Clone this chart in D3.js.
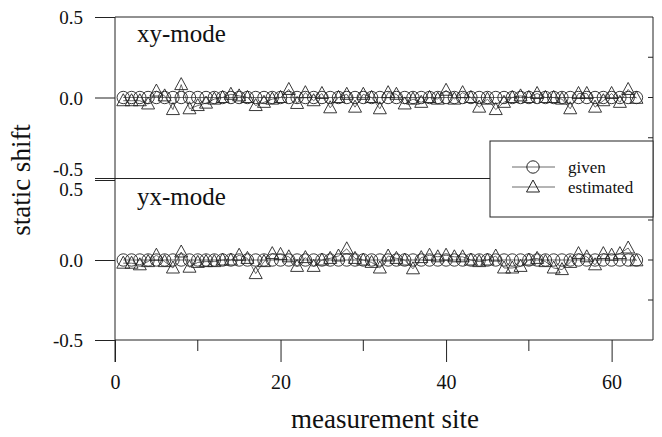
<!DOCTYPE html>
<html><head><meta charset="utf-8">
<script src="https://cdn.jsdelivr.net/npm/d3@7"></script>
<style>body{margin:0;background:#fff}svg{display:block}text{font-family:"Liberation Serif","Times New Roman",serif;fill:#111}</style>
</head><body>
<script>
const sites = d3.range(1, 64);
const xyGiven = sites.map(() => 0);
const xyEstimated = [-0.02,-0.02,-0.02,-0.04,0.04,0.01,-0.075,0.08,-0.07,-0.05,-0.035,-0.01,0.0,0.02,0.01,0.0,-0.05,-0.03,-0.01,0.0,
 0.05,-0.037,0.03,-0.02,0.025,-0.064,0.0,0.02,-0.06,0.02,0.0,-0.07,0.03,0.02,-0.04,-0.01,-0.03,0.0,-0.01,0.045,
 -0.01,0.03,0.0,-0.06,-0.01,-0.075,-0.03,0.0,0.01,0.0,0.025,0.0,0.0,-0.01,-0.07,0.025,0.025,-0.06,-0.02,0.025,
 -0.03,0.05,-0.005];
const yxGiven = sites.map(() => 0);
const yxEstimated = [-0.02,-0.02,-0.03,-0.01,0.03,-0.01,-0.05,0.05,-0.045,-0.015,-0.01,-0.01,0.0,0.0,0.03,0.01,-0.085,-0.01,0.04,0.035,
 0.02,-0.04,0.015,-0.04,0.0,0.01,0.025,0.07,0.01,0.0,-0.015,-0.05,0.025,0.01,0.0,-0.055,0.015,0.03,0.02,0.03,
 0.02,0.02,0.0,-0.01,0.0,0.025,-0.05,-0.05,-0.04,0.0,0.01,-0.01,-0.05,-0.06,-0.015,0.04,0.02,-0.03,0.04,0.03,
 0.04,0.075,-0.005];
const xTicks = [0, 20, 40, 60];
const xMinorTicks = [10, 30, 50];
const yTicks = [-0.5, 0.0, 0.5];
const panelTitles = ["xy-mode", "yx-mode"];
const legendLabels = ["given", "estimated"];

const W = 662, H = 437;
const svg = d3.select("body").append("svg").attr("width", W).attr("height", H);

const x = d3.scaleLinear().domain([0, 65]).range([115, 653]);
const panels = [
  {y: d3.scaleLinear().domain([-0.5, 0.5]).range([178, 17]), given: xyGiven, est: xyEstimated, title: panelTitles[0]},
  {y: d3.scaleLinear().domain([-0.5, 0.5]).range([340, 180]), given: yxGiven, est: yxEstimated, title: panelTitles[1]}
];
const L = 115, R = 653;
const stroke = "#222";
const fmt = d => d3.format(".1f")(d).replace("\u2212", "-");

function tri(cx, cy) {
  return `M${cx},${cy-7}L${cx+6.5},${cy+5}L${cx-6.5},${cy+5}Z`;
}

// frame
svg.append("line").attr("x1", L).attr("x2", L).attr("y1", 17).attr("y2", 362).attr("stroke", stroke).attr("stroke-width", 1);
svg.append("line").attr("x1", R).attr("x2", R).attr("y1", 17).attr("y2", 340).attr("stroke", stroke).attr("stroke-width", 1);
svg.append("line").attr("x1", L).attr("x2", R).attr("y1", 340).attr("y2", 340).attr("stroke", stroke).attr("stroke-width", 1);
svg.append("line").attr("x1", L).attr("x2", R).attr("y1", 17).attr("y2", 17).attr("stroke", stroke).attr("stroke-width", 1);
svg.append("line").attr("x1", L).attr("x2", R).attr("y1", 178.5).attr("y2", 178.5).attr("stroke", stroke).attr("stroke-width", 1);

panels.forEach((p, pi) => {
  const g = svg.append("g");
  const ax = d3.axisLeft(p.y).tickValues(yTicks).tickFormat(fmt).tickSize(20).tickPadding(12);
  const ga = g.append("g").attr("transform", `translate(${L},0)`).call(ax);
  ga.select(".domain").remove();
  ga.selectAll(".tick line").attr("stroke", stroke);
  ga.selectAll(".tick text").style("font-size", "19px").style("font-family", '"Liberation Serif",serif').attr("fill", "#111")
    .attr("dy", d => (pi === 0 && d === -0.5) ? "-0.15em" : (pi === 1 && d === 0.5) ? "0.8em" : "0.35em");
  g.selectAll(".rt").data([-0.25, 0, 0.25]).join("line")
    .attr("x1", R - 5).attr("x2", R).attr("y1", d => p.y(d)).attr("y2", d => p.y(d)).attr("stroke", stroke);
  const line = d3.line().x((d, i) => x(sites[i])).y(d => p.y(d));
  g.append("path").attr("d", line(p.given)).attr("fill", "none").attr("stroke", "#444").attr("stroke-width", 0.8);
  g.append("path").attr("d", line(p.est)).attr("fill", "none").attr("stroke", "#444").attr("stroke-width", 0.8);
  g.selectAll(".c").data(p.given).join("circle")
    .attr("cx", (d, i) => x(sites[i])).attr("cy", d => p.y(d)).attr("r", 6.2)
    .attr("fill", "none").attr("stroke", stroke).attr("stroke-width", 0.9);
  g.selectAll(".t").data(p.est).join("path")
    .attr("d", (d, i) => tri(x(sites[i]), p.y(d)))
    .attr("fill", "none").attr("stroke", stroke).attr("stroke-width", 0.9);
  g.append("text").attr("x", 137).attr("y", p.y(0.5) + 25).text(p.title).style("font-size", "25px");
});

const xa = d3.axisBottom(x).tickValues(xTicks).tickFormat(d3.format("d")).tickSize(22).tickPadding(13);
const gx = svg.append("g").attr("transform", "translate(0,340)").call(xa);
gx.select(".domain").remove();
gx.selectAll(".tick line").attr("stroke", stroke);
gx.selectAll(".tick text").style("font-size", "20px").style("font-family", '"Liberation Serif",serif').attr("fill", "#111");
svg.selectAll(".xm").data(xMinorTicks).join("line")
  .attr("x1", d => x(d)).attr("x2", d => x(d)).attr("y1", 340).attr("y2", 351).attr("stroke", stroke);

svg.append("text").attr("x", 385).attr("y", 428).attr("text-anchor", "middle").text("measurement site").style("font-size", "27px");
svg.append("text").attr("transform", "translate(30,180) rotate(-90)").attr("text-anchor", "middle").text("static shift").style("font-size", "27px");

const lg = svg.append("g");
lg.append("rect").attr("x", 490).attr("y", 141).attr("width", R - 490).attr("height", 76)
  .attr("fill", "#fff").attr("stroke", stroke).attr("stroke-width", 1);
const ly = [167, 187];
legendLabels.forEach((lab, i) => {
  lg.append("line").attr("x1", 512).attr("x2", 555).attr("y1", ly[i]).attr("y2", ly[i]).attr("stroke", "#444").attr("stroke-width", 0.8);
  if (i === 0) lg.append("circle").attr("cx", 533).attr("cy", ly[i]).attr("r", 6.2).attr("fill", "none").attr("stroke", stroke);
  else lg.append("path").attr("d", tri(533, ly[i])).attr("fill", "none").attr("stroke", stroke);
  lg.append("text").attr("x", 568).attr("y", ly[i]).attr("dy", "0.35em").text(lab).style("font-size", "17px");
});
</script>
</body></html>
